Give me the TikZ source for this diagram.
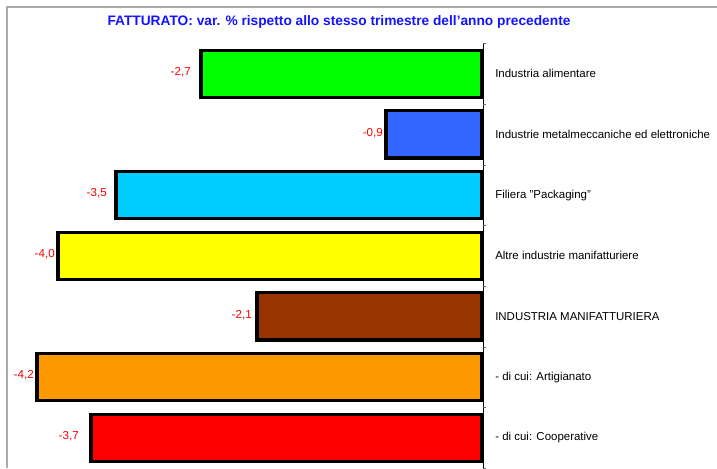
\documentclass[tikz,border=0pt]{standalone}
\usepackage{fontspec}
\setmainfont{Liberation Sans}
\begin{document}
\begin{tikzpicture}[x=0.75pt,y=-0.75pt,
  bar/.style={draw=black,line width=2.4pt},
  catlabel/.style={anchor=west,inner sep=0pt,font=\fontsize{8.6}{10}\selectfont},
  vallabel/.style={anchor=east,inner sep=0pt,text=red,font=\fontsize{8.7}{10}\selectfont},
  frame/.style={draw=black!33,line width=1pt},
  tick/.style={draw=black,line width=0.5pt}]
\useasboundingbox (0,0) rectangle (717,468);
\fill[white] (0,0) rectangle (717,468);
\definecolor{cgreen}{RGB}{0,255,0}
\definecolor{cblue}{RGB}{51,102,255}
\definecolor{ccyan}{RGB}{0,204,255}
\definecolor{cyellow}{RGB}{255,255,0}
\definecolor{cbrown}{RGB}{153,51,0}
\definecolor{corange}{RGB}{255,153,0}
\definecolor{cred}{RGB}{255,0,0}
\definecolor{ctitle}{RGB}{20,20,255}
% outer frame
\draw[frame] (7,468) -- (7,7) -- (717,7);
% title
\node[font=\bfseries\fontsize{10.3}{12}\selectfont,text=ctitle,inner sep=0pt] (title) at (339,22) {FATTURATO: var. \% rispetto allo stesso trimestre dell\symbol{39}anno precedente};
% bars
\foreach \i/\l/\c/\v/\lx/\txt in {
 0/201/cgreen/{-2,7}/191/{Industria alimentare},
 1/386/cblue/{-0,9}/383/{Industrie metalmeccaniche ed elettroniche},
 2/116/ccyan/{-3,5}/107/{Filiera \symbol{34}Packaging\symbol{34}},
 3/58/cyellow/{-4,0}/55/{Altre industrie manifatturiere},
 4/257/cbrown/{-2,1}/252/{INDUSTRIA MANIFATTURIERA},
 5/37/corange/{-4,2}/34/{ - di cui: Artigianato},
 6/91/cred/{-3,7}/79/{ - di cui: Cooperative}}{
  \pgfmathsetmacro{\yc}{73.8+60.67*\i}
  \node[bar,fill=\c,minimum width={(483-\l-1.5)*0.75pt},minimum height=35.4pt,inner sep=0pt,anchor=east] (bar\i) at (483,\yc) {};
  \node[vallabel] (val\i) at (\lx,\yc-1.5) {\v};
  \node[catlabel] (cat\i) at (495,\yc) {\txt};
}
% axis
\coordinate (axtop) at (483,43);
\coordinate (axbot) at (483,468);
\draw[tick] (axtop) -- (axbot);
\foreach \k in {0,...,7}{
  \pgfmathsetmacro{\yt}{43.5+60.67*\k}
  \draw[tick,black!60] (483,\yt) -- (486,\yt);
}
\end{tikzpicture}
\end{document}
